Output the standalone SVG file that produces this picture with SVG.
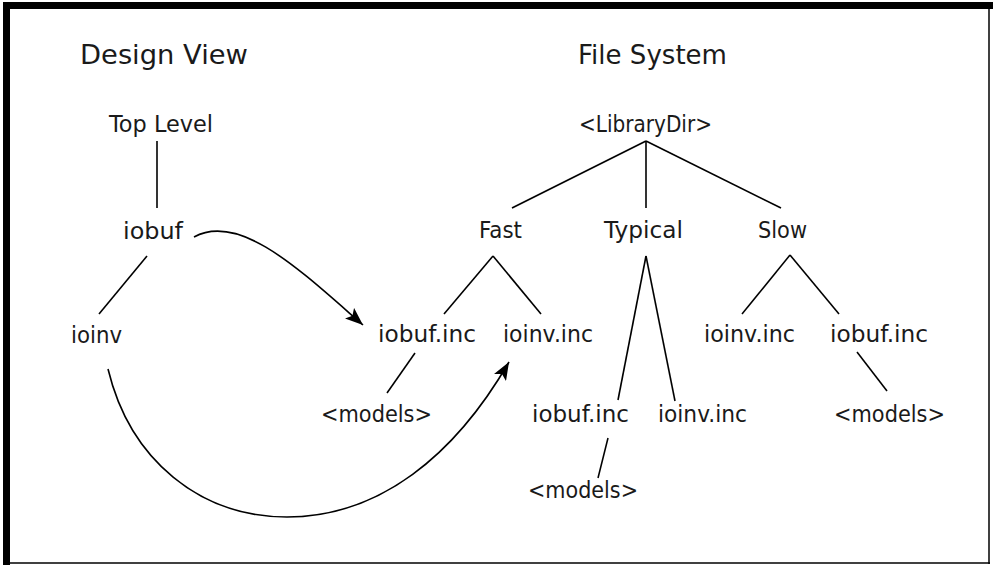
<svg xmlns="http://www.w3.org/2000/svg" width="993" height="565" viewBox="0 0 993 565">
  <style>
    text { font-family: "DejaVu Sans", "Liberation Sans", sans-serif; fill: #1a1a1a; }
    .title { font-size: 27px; }
    .lbl { font-size: 23px; }
    .edge { stroke: #000; stroke-width: 1.6; fill: none; }
    .arrow { stroke: #000; stroke-width: 1.6; fill: none; marker-end: url(#ah); }
  </style>
  <defs>
    <marker id="ah" markerUnits="userSpaceOnUse" markerWidth="20" markerHeight="14" refX="18" refY="7" orient="auto">
      <path d="M0,0 L18,7 L0,14 L4,7 Z" fill="#000"/>
    </marker>
  </defs>
  <rect width="993" height="565" fill="#fff"/>
  <g id="frame">
    <rect x="3" y="2" width="990" height="7" fill="#000"/>
    <rect x="3" y="2" width="7" height="563" fill="#000"/>
    <line x1="989" y1="2" x2="989" y2="564" stroke="#000" stroke-width="1.5"/>
    <line x1="3" y1="563" x2="990" y2="563" stroke="#000" stroke-width="1.5"/>
  </g>
  <g id="titles">
    <text class="title" x="80" y="64" textLength="168" lengthAdjust="spacingAndGlyphs">Design View</text>
    <text class="title" x="578" y="64" textLength="149" lengthAdjust="spacingAndGlyphs">File System</text>
  </g>
  <g id="connectors">
    <line class="edge" x1="157" y1="141" x2="157" y2="208"/>
    <line class="edge" x1="147" y1="256" x2="99" y2="314"/>
    <line class="edge" x1="646" y1="141" x2="512" y2="208"/>
    <line class="edge" x1="646" y1="141" x2="646" y2="208"/>
    <line class="edge" x1="646" y1="141" x2="781" y2="208"/>
    <line class="edge" x1="493" y1="256" x2="444" y2="314"/>
    <line class="edge" x1="493" y1="256" x2="541" y2="314"/>
    <line class="edge" x1="646" y1="256" x2="618" y2="400"/>
    <line class="edge" x1="646" y1="256" x2="675" y2="401"/>
    <line class="edge" x1="790" y1="255" x2="742" y2="314"/>
    <line class="edge" x1="790" y1="255" x2="839" y2="314"/>
    <line class="edge" x1="415" y1="353" x2="387" y2="393"/>
    <line class="edge" x1="608" y1="438" x2="598" y2="478"/>
    <line class="edge" x1="857" y1="352" x2="887" y2="391"/>
    <path class="arrow" d="M194,237 C240,212 300,270 363,325"/>
    <path class="arrow" d="M108,369 C130,460 200,517 287,517 C380,517 455,455 509,362"/>
  </g>
  <g id="n-toplevel"><text class="lbl" x="109" y="132" textLength="104" lengthAdjust="spacingAndGlyphs">Top Level</text></g>
  <g id="n-iobuf"><text class="lbl" x="123" y="239" textLength="60" lengthAdjust="spacingAndGlyphs">iobuf</text></g>
  <g id="n-ioinv"><text class="lbl" x="71" y="343" textLength="51" lengthAdjust="spacingAndGlyphs">ioinv</text></g>
  <g id="n-librarydir"><text class="lbl" x="579" y="132" textLength="133" lengthAdjust="spacingAndGlyphs">&lt;LibraryDir&gt;</text></g>
  <g id="n-fast"><text class="lbl" x="479" y="238" textLength="43" lengthAdjust="spacingAndGlyphs">Fast</text></g>
  <g id="n-typical"><text class="lbl" x="604" y="238" textLength="79" lengthAdjust="spacingAndGlyphs">Typical</text></g>
  <g id="n-slow"><text class="lbl" x="758" y="238" textLength="49" lengthAdjust="spacingAndGlyphs">Slow</text></g>
  <g id="n-fast-iobuf"><text class="lbl" x="378" y="342" textLength="98" lengthAdjust="spacingAndGlyphs">iobuf.inc</text></g>
  <g id="n-fast-ioinv"><text class="lbl" x="503" y="342" textLength="90" lengthAdjust="spacingAndGlyphs">ioinv.inc</text></g>
  <g id="n-slow-ioinv"><text class="lbl" x="704" y="342" textLength="91" lengthAdjust="spacingAndGlyphs">ioinv.inc</text></g>
  <g id="n-slow-iobuf"><text class="lbl" x="830" y="342" textLength="98" lengthAdjust="spacingAndGlyphs">iobuf.inc</text></g>
  <g id="n-fast-models"><text class="lbl" x="321" y="422" textLength="111" lengthAdjust="spacingAndGlyphs">&lt;models&gt;</text></g>
  <g id="n-typ-iobuf"><text class="lbl" x="532" y="422" textLength="97" lengthAdjust="spacingAndGlyphs">iobuf.inc</text></g>
  <g id="n-typ-ioinv"><text class="lbl" x="658" y="422" textLength="89" lengthAdjust="spacingAndGlyphs">ioinv.inc</text></g>
  <g id="n-slow-models"><text class="lbl" x="834" y="422" textLength="111" lengthAdjust="spacingAndGlyphs">&lt;models&gt;</text></g>
  <g id="n-typ-models"><text class="lbl" x="528" y="498" textLength="110" lengthAdjust="spacingAndGlyphs">&lt;models&gt;</text></g>
</svg>
